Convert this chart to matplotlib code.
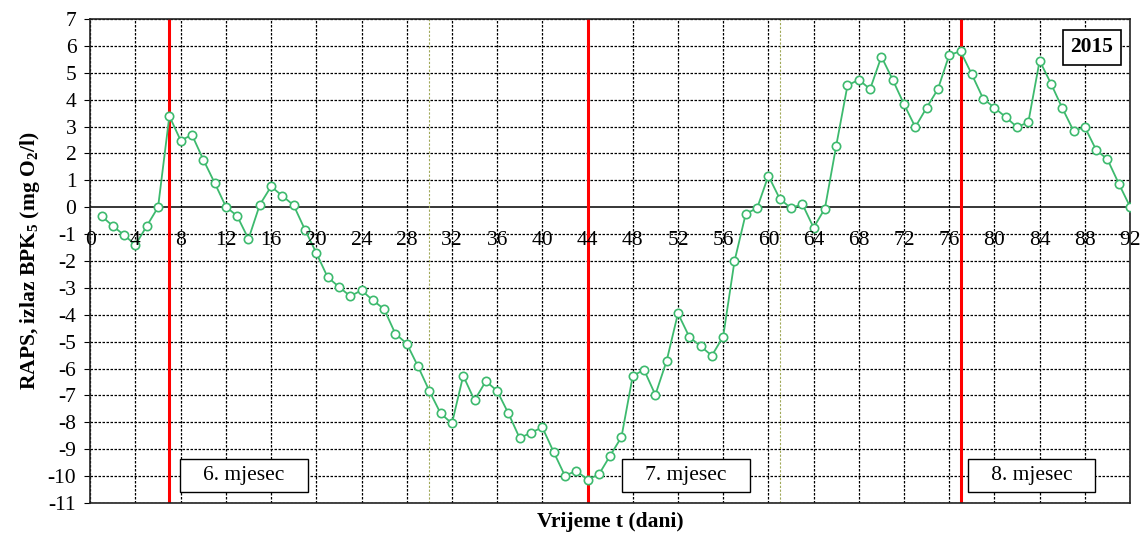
import numpy as np
import matplotlib.pyplot as plt

# ── DATA ──────────────────────────────────────────────────────────────────────
days = list(range(1, 93))
raps = [-0.33, -0.70, -1.04, -1.40, -0.70, 0.00, 3.39, 2.48, 2.69, 1.77,
        0.91, 0.02, -0.33, -1.18, 0.09, 0.77, 0.42, 0.07, -0.84, -1.70,
        -2.60, -2.96, -3.31, -3.09, -3.46, -3.79, -4.71, -5.07, -5.92, -6.83,
        -7.67, -8.04, -6.27, -7.18, -6.47, -6.83, -7.67, -8.59, -8.38, -8.19,
        -9.10, -9.99, -9.80, -10.13, -9.94, -9.24, -8.55, -6.27, -6.05, -6.98,
        -5.71, -3.95, -4.82, -5.17, -5.52, -4.81, -2.01, -0.24, -0.04, 1.17,
        0.32, -0.04, 0.12, -0.76, -0.05, 2.28, 4.53, 4.74, 4.39, 5.60,
        4.74, 3.83, 2.98, 3.70, 4.39, 5.66, 5.80, 4.94, 4.04, 3.70,
        3.35, 2.98, 3.16, 5.45, 4.60, 3.69, 2.84, 2.98, 2.13, 1.78,
        0.88, 0.02]

month_starts = [7, 44, 77]          # red separators
month_labels = ['6. mjesec', '7. mjesec', '8. mjesec']
month_label_x = [13.6, 52.7, 83.3]
mid_lines = [30, 61]                # thin olive markers
year_label = '2015'

x_ticks = list(range(0, 93, 4))
y_ticks = list(range(-11, 8))

# ── PLOT ─────────────────────────────────────────────────────────────────────
plt.rcParams['font.family'] = ['Liberation Serif', 'DejaVu Serif']
plt.rcParams['mathtext.fontset'] = 'custom'
plt.rcParams['mathtext.rm'] = 'Liberation Serif'
plt.rcParams['mathtext.bf'] = 'Liberation Serif:bold'

fig = plt.figure(figsize=(11.41, 5.33), dpi=100)
ax = fig.add_axes([0.0791, 0.0563, 0.9113, 0.9081])

ax.set_xlim(0, 92)
ax.set_ylim(-11, 7)

# grid: dashed black, horizontal every 1, vertical every 4
for y in y_ticks:
    if y == 0:
        ax.axhline(y, color='black', linewidth=1.1, zorder=1)
    else:
        ax.axhline(y, color='black', linewidth=0.9, linestyle=(0, (2, 1.2)), zorder=1)
for x in x_ticks:
    ax.axvline(x, color='black', linewidth=0.9, linestyle=(0, (2, 1.2)), zorder=1)

for x in mid_lines:
    ax.axvline(x, color='#a0a858', linewidth=0.8, linestyle=(0, (2, 1.5)), zorder=1.5)
for x in month_starts:
    ax.axvline(x, color='red', linewidth=2.2, zorder=2)

ax.plot(days, raps, color='#3dba6e', linewidth=1.3, marker='o', markersize=6,
        markerfacecolor='white', markeredgecolor='#3dba6e', markeredgewidth=1.2, zorder=3)

# x tick labels sit just below the zero line
ax.set_xticks(x_ticks)
ax.set_xticklabels([])
ax.tick_params(axis='x', length=0)
for x in x_ticks:
    ax.annotate(str(x), xy=(x, 0), xytext=(0, -24), textcoords='offset points',
                ha='center', va='center', fontsize=15.5, zorder=4)

ax.set_yticks(y_ticks)
ax.set_yticklabels([str(v) for v in y_ticks], fontsize=15.5)
ax.tick_params(axis='y', length=4, width=0.8, direction='out', pad=6)

for lbl, x in zip(month_labels, month_label_x):
    ax.text(x, -9.97, '   ' + lbl + '   ', ha='center', va='center', fontsize=15.5,
            bbox=dict(boxstyle='square,pad=0.32', facecolor='white', edgecolor='black',
                      linewidth=1.0), zorder=5)

ax.text(88.6, 5.95, year_label, ha='center', va='center', fontsize=15.5, fontweight='bold',
        bbox=dict(boxstyle='square,pad=0.35', facecolor='white', edgecolor='black',
                  linewidth=1.2), zorder=5)

ax.set_xlabel('Vrijeme t (dani)', fontsize=15.5, fontweight='bold', labelpad=3)
ax.set_ylabel(r'RAPS, izlaz BPK$_{\mathbf{5}}$ (mg O$_{\mathbf{2}}$/l)', fontsize=15.5,
              fontweight='bold', labelpad=4)

for s in ax.spines.values():
    s.set_linewidth(1.2)
    s.set_color('#222222')

plt.savefig('out.png', dpi=100)
